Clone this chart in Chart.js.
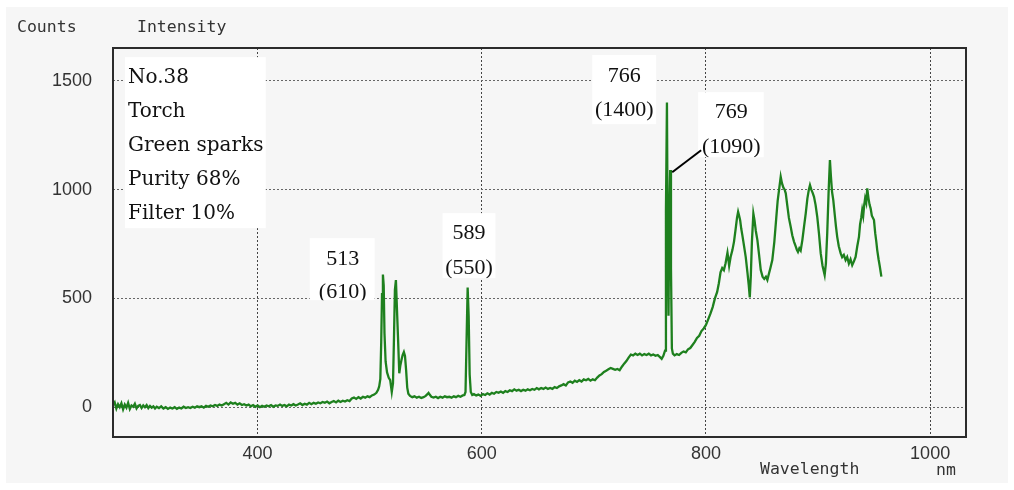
<!DOCTYPE html>
<html><head><meta charset="utf-8">
<script src="https://cdn.jsdelivr.net/npm/chart.js@4.4.1/dist/chart.umd.min.js"></script>
<style>html,body{margin:0;padding:0;background:#fff;}#wrap{width:1014px;height:490px;position:relative;}</style>
</head><body><div id="wrap"><canvas id="c" width="1014" height="490"></canvas></div>
<script>
// ---- data (wavelength nm / counts) ----
const nmA = [271,272.5,274,275.5,277,278.5,280,281.5,283,284.5,286,287.5,289,290.5,292,293.5,295,296.5,298,299.5,301,302.5,304,305.5,307,308.5,310,312,314,316,318,320,322,324,326,328,330,332,334,336,338,340,342,344,346,348,350,352,354,356,358,360,362,364,366,368,370];
const ctA = [10,22,-6,14,0,18,-10,12,-2,20,-8,8,2,16,-6,6,10,-4,8,0,10,-4,6,-2,4,-6,2,-4,4,-6,0,-8,-2,-6,0,-8,-2,-6,2,-4,0,-4,2,-2,4,0,4,-2,6,2,8,4,10,6,12,8,14];
const nmB = [372,374,376,378,380,382,384,386,388,390,392,394,396,398,400,402,404,406,408,410,412,414,416,418,420,422,424,426,428,430,432,434,436,438,440,442,444,446,448,450,452,454,456,458,460,462,464,466,468,470,472,474,476,478,480,482,484,486,488,490,492,494,496,498,500,502,504,506];
const ctB = [20,12,22,16,20,12,18,10,14,8,12,4,10,2,8,0,6,2,8,4,10,2,8,6,12,6,10,4,12,8,14,8,12,18,10,16,12,20,14,20,16,22,18,24,20,26,18,24,28,22,30,24,30,26,32,28,40,44,38,46,40,48,44,50,46,54,58,66];
const nmC = [507.5,508.5,509.5,510.3,511,511.8,512.5,513.2,514.2,515.5,517,518.3,519.7,520.8,521.6,522.5,523.4,524.2,525.2,526.4,527.3,528.3,529.4,530.5,531.5,532.5,533.5,534.5];
const ctC = [80,96,130,300,520,610,560,340,210,160,135,124,70,110,300,540,584,470,330,156,190,216,240,254,236,170,90,62];
const nmD = [536,538,540,542,544,546,548,550,551.5,552.5,553.5,555,557,559,561,563,565,567,569,571,573,575,577,579,581,583,584.5];
const ctD = [52,46,50,44,48,42,46,52,60,66,58,48,44,48,42,48,44,50,46,48,44,50,46,52,48,54,56];
const nmE = [585.5,586.4,587.4,588.3,589.2,590.2,591.5];
const ctE = [70,300,550,420,150,70,56];
const nmF = [593,595,597,599,601,603,605,607,609,611,613,615,617,619,621,623,625,627,629,631,633,635,637,639,641,643,645,647,649,651,653,655,657,659,661,663,665,667,669,671,673,675,677,679,681,683,685,687,689,691,693,695,697,699,701,703,705,707,709,711,713,715,717,719,721,723,725,727,729,731,733,735,737,739,741,743,745,747,749,751,753,755,757,759,760.5,762];
const ctF = [60,54,58,52,60,56,64,58,66,62,70,66,72,66,74,70,78,74,82,76,80,74,80,76,82,78,84,80,88,82,88,84,90,84,88,84,92,88,96,100,106,100,114,118,112,122,116,124,118,128,124,130,122,128,124,136,146,152,162,168,174,180,176,172,176,170,186,200,212,228,242,238,246,240,246,238,244,240,246,238,242,236,240,230,222,236];
const nmG = [763.5,764.3,765.2,765.9,766.6,767.3,768.1,768.8,769.6,770.5];
const ctG = [260,900,1400,700,420,880,1090,640,270,246];
const nmH = [772,774,776,778,780,782,784,786,788,790,792,794,796,798,800,802,804,806,808,810];
const ctH = [238,244,240,250,256,252,266,272,286,300,318,328,350,362,378,404,430,460,500,530];
const nmI = [811.5,813,814.5,816,817.5,818.5,819.2,820,820.7,822,823.6,825,826.5,827.7,828.7,829.6,830.5,831.5,832.5,834,835.5,837,838.2,839.1,840,841,842.3,843.3,844.5,845.9,847.4,848.9,850.5,852,853.5,854.8,856,857.5,859.2,861,862.8,864,865.5,866.7,867.8,869,870.2,871.2,872.5,874,875.6,877,878.6,880,881,882.1,883.3,884.5,886,887.5,889,890.5,891.8,892.8,894,895.2,896.4,897.8,899.3,900.8,902.4,904,905.9,907,908.2,909.5,910.6,911.5,912.5,913.6,915,916,917.1,918.5,920.2,921.5,923,924.6,926,927.5,929,930.5,932,933.5,935,936.5,937.5,938.5,939.4,940.3,941.2,942,943,943.9,945,946,946.9,948,949.9,951,952,952.8,954,955,956.5];
const ctI = [570,620,640,630,662,690,710,680,650,690,722,760,820,870,898,880,860,820,790,740,690,620,560,505,600,760,890,860,810,768,700,630,600,590,600,585,610,640,676,760,875,950,1010,1059,1030,1010,1000,983,930,870,829,790,760,740,725,714,730,720,768,830,890,960,1000,1021,1000,985,967,930,875,800,707,650,607,660,800,1000,1136,1060,990,952,880,830,783,740,707,690,700,676,690,660,680,653,670,691,740,783,840,870,906,880,930,960,940,1006,960,930,914,880,860,800,760,722,680,650,600];

const xTickValues = [400, 600, 800, 1000];
const yTickValues = [0, 500, 1000, 1500];
const infoLines = ['No.38', 'Torch', 'Green sparks', 'Purity 68%', 'Filter 10%'];
const peakLabels = [
  {nm:'513', val:'(610)'},
  {nm:'589', val:'(550)'},
  {nm:'766', val:'(1400)'},
  {nm:'769', val:'(1090)'}
];

const wavelengths = [].concat(nmA,nmB,nmC,nmD,nmE,nmF,nmG,nmH,nmI);
const countsAll = [].concat(ctA,ctB,ctC,ctD,ctE,ctF,ctG,ctH,ctI);
const points = wavelengths.map((x,i)=>({x:x, y:countsAll[i]}));

// ---- annotation placement (in data units) ----
const infoBox = {x0:281.7, x1:407.3, y0:1609, y1:823, tx:284.4, ys:[1513,1357,1200,1044,887]};
const peakBoxes = [
  {x0:446.5, x1:504.4, y0:777,  y1:492,  cx:475.9, ys:[680,529]},
  {x0:565.0, x1:612.2, y0:892,  y1:593,  cx:588.6, ys:[800,639]},
  {x0:698.6, x1:755.6, y0:1619, y1:1301, cx:727.1, ys:[1522,1365]},
  {x0:793.0, x1:851.6, y0:1448, y1:1149, cx:822.6, ys:[1357,1196]}
];
const leader = {x0:769.9, y0:1080, x1:795.7, y1:1181};

const bgPlugin = {
  id:'bg',
  beforeDraw(chart){
    const ctx = chart.ctx;
    ctx.save();
    ctx.fillStyle = '#ffffff';
    ctx.fillRect(0,0,chart.width,chart.height);
    ctx.fillStyle = '#f6f6f6';
    ctx.fillRect(6,7,1002,476);
    ctx.restore();
  }
};

const decoPlugin = {
  id:'deco',
  afterDatasetsDraw(chart){
    const ctx = chart.ctx;
    const xs = chart.scales.x, ys = chart.scales.y;
    const a = chart.chartArea;
    const X = v => xs.getPixelForValue(v), Y = v => ys.getPixelForValue(v);
    ctx.save();
    // frame
    ctx.strokeStyle = '#2b2b2b';
    ctx.lineWidth = 2;
    ctx.strokeRect(a.left, a.top, a.right - a.left, a.bottom - a.top);
    // info box
    ctx.fillStyle = '#ffffff';
    ctx.fillRect(X(infoBox.x0), Y(infoBox.y0), X(infoBox.x1)-X(infoBox.x0), Y(infoBox.y1)-Y(infoBox.y0));
    ctx.fillStyle = '#111';
    ctx.font = '20px "DejaVu Serif"';
    ctx.textAlign = 'left';
    ctx.textBaseline = 'middle';
    infoLines.forEach((t,i)=>ctx.fillText(t, X(infoBox.tx), Y(infoBox.ys[i])));
    // peak boxes
    ctx.font = '22px "Liberation Serif"';
    ctx.textAlign = 'center';
    peakBoxes.forEach((b,i)=>{
      const bx = X(b.x0), by = Y(b.y0), bw = X(b.x1)-bx, bh = Y(b.y1)-by;
      ctx.save();
      ctx.fillStyle = '#ffffff';
      ctx.fillRect(bx,by,bw,bh);
      ctx.beginPath(); ctx.rect(bx,by,bw,bh); ctx.clip();
      ctx.fillStyle = '#111';
      ctx.fillText(peakLabels[i].nm, X(b.cx), Y(b.ys[0]));
      ctx.fillText(peakLabels[i].val, X(b.cx), Y(b.ys[1]));
      ctx.restore();
    });
    // leader line
    ctx.strokeStyle = '#000';
    ctx.lineWidth = 2;
    ctx.beginPath();
    ctx.moveTo(X(leader.x0), Y(leader.y0));
    ctx.lineTo(X(leader.x1), Y(leader.y1));
    ctx.stroke();
    // axis titles
    ctx.fillStyle = '#333';
    ctx.font = '16.5px "DejaVu Sans Mono"';
    ctx.textAlign = 'left';
    ctx.textBaseline = 'middle';
    ctx.fillText('Counts', 17, 28);
    ctx.fillText('Intensity', 137, 28);
    ctx.fillText('Wavelength', 760, 470);
    ctx.fillText('nm', 936, 471);
    ctx.restore();
  }
};

new Chart(document.getElementById('c'), {
  type:'line',
  data:{ datasets:[{
    data: points,
    borderColor:'#1e801e',
    borderWidth:2.3,
    pointRadius:0,
    tension:0,
    fill:false
  }]},
  options:{
    responsive:false,
    animation:false,
    devicePixelRatio:1,
    layout:{padding:{top:48, right:48, left:0, bottom:0}},
    plugins:{legend:{display:false}, tooltip:{enabled:false}},
    scales:{
      x:{
        type:'linear', min:271, max:1032,
        afterBuildTicks: s => { s.ticks = xTickValues.map(v=>({value:v})); },
        afterFit: s => { s.height = 53; },
        grid:{color:'#444', lineWidth:1, drawTicks:false},
        border:{display:false, dash:[2,2]},
        ticks:{padding:6, color:'#333', font:{family:'Liberation Sans', size:18}, maxRotation:0, autoSkip:false,
               callback: v => String(v)}
      },
      y:{
        type:'linear', min:-137, max:1651,
        afterBuildTicks: s => { s.ticks = yTickValues.map(v=>({value:v})); },
        afterFit: s => { s.width = 113; },
        grid:{color:'#666', lineWidth:1, drawTicks:false},
        border:{display:false, dash:[2,2]},
        ticks:{padding:21, color:'#333', font:{family:'Liberation Sans', size:18},
               callback: v => String(v)}
      }
    }
  },
  plugins:[bgPlugin, decoPlugin]
});
</script>
</body></html>
